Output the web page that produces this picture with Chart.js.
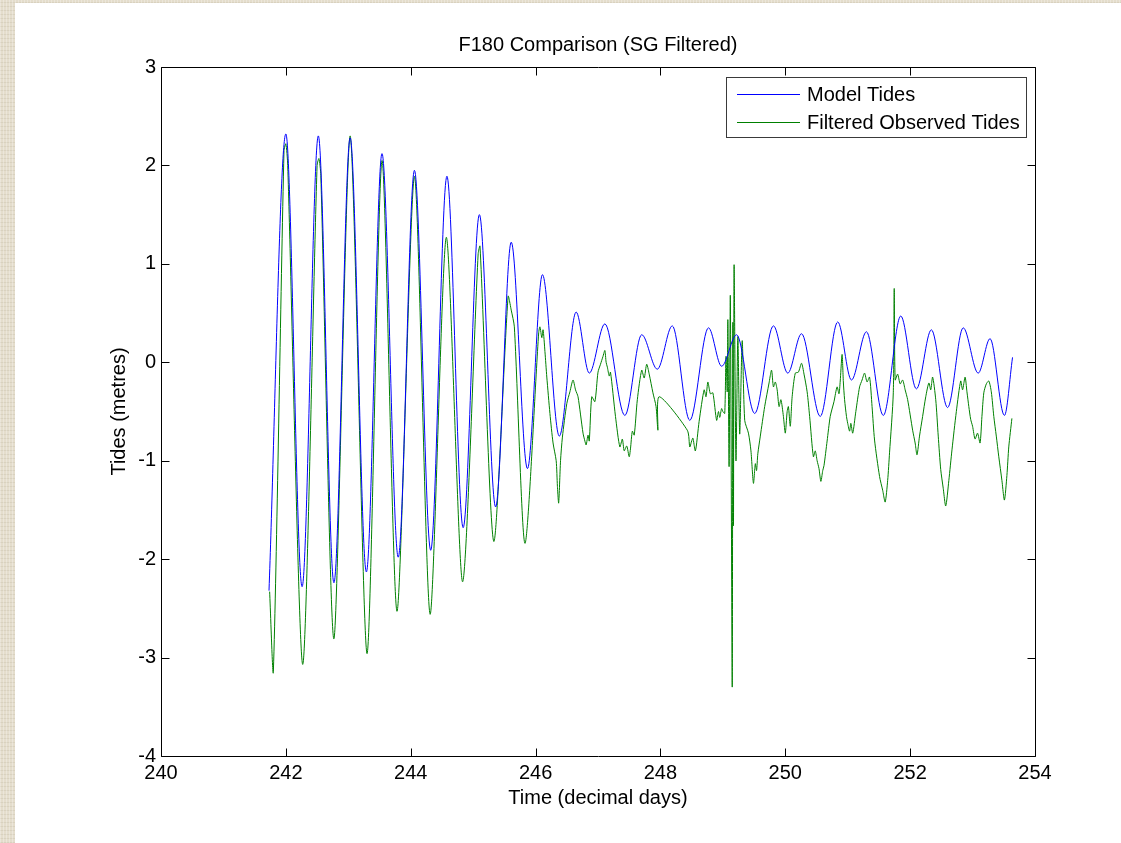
<!DOCTYPE html>
<html>
<head>
<meta charset="utf-8">
<title>F180 Comparison (SG Filtered)</title>
<script src="https://cdn.jsdelivr.net/npm/chart.js@4.4.1/dist/chart.umd.min.js"></script>
<style>
  html, body { margin: 0; padding: 0; }
  body {
    width: 1121px; height: 843px; overflow: hidden; position: relative;
    background-color: #e4ddcc;
    background-image:
      repeating-linear-gradient(90deg, rgba(255,255,255,0.28) 0 1px, transparent 1px 3px),
      repeating-linear-gradient(0deg, rgba(150,140,110,0.14) 0 1px, transparent 1px 4px);
  }
  #sheet { position: absolute; left: 15px; top: 3px; right: 0; bottom: 0; background: #fff; }
  #tideChart { position: absolute; left: 0; top: 0; }
</style>
</head>
<body>
<div id="sheet"></div>
<canvas id="tideChart" width="1121" height="843"></canvas>
<script>
// values (turning points + visible noise)
const modelDays = [241.73, 242.00, 242.26, 242.52, 242.77, 243.03, 243.29, 243.54, 243.80, 244.06,
  244.32, 244.58, 244.84, 245.10, 245.36, 245.61, 245.87, 246.11, 246.38, 246.65, 246.86, 247.11,
  247.43, 247.70, 247.95, 248.19, 248.47, 248.77, 248.98, 249.22, 249.51, 249.81, 250.04, 250.26,
  250.56, 250.84, 251.06, 251.30, 251.57, 251.85, 252.10, 252.34, 252.60, 252.85, 253.09, 253.28,
  253.51, 253.64];
const modelTides = [-2.32, 2.32, -2.28, 2.30, -2.24, 2.28, -2.13, 2.12, -1.98, 1.95,
  -1.91, 1.89, -1.68, 1.50, -1.47, 1.22, -1.08, 0.89, -0.75, 0.51, -0.11, 0.39,
  -0.54, 0.28, -0.07, 0.37, -0.59, 0.35, -0.04, 0.28, -0.52, 0.37, -0.11, 0.29,
  -0.55, 0.41, -0.18, 0.31, -0.54, 0.47, -0.27, 0.33, -0.46, 0.35, -0.11, 0.24,
  -0.54, 0.05];

const observedDays = [
  241.74, 241.80, 241.97, 242.00, 242.03, 242.27, 242.50, 242.53, 242.56, 242.77,
  243.03, 243.30, 243.54, 243.78, 244.06, 244.31, 244.57, 244.83, 245.08, 245.11,
  245.33, 245.56, 245.61, 245.66, 245.83, 246.05, 246.07, 246.10, 246.12, 246.15,
  246.18, 246.23, 246.28, 246.33, 246.35, 246.37, 246.40, 246.43, 246.50, 246.55,
  246.60, 246.64, 246.68, 246.76, 246.79, 246.81, 246.84, 246.86, 246.90, 246.95,
  247.00, 247.04, 247.08, 247.11, 247.13, 247.15, 247.18, 247.20, 247.28, 247.35,
  247.39, 247.42, 247.46, 247.50, 247.52, 247.55, 247.58, 247.63, 247.70, 247.74,
  247.78, 247.82, 247.88, 247.93, 247.96, 247.98, 248.43, 248.47, 248.50, 248.52,
  248.56, 248.62, 248.70, 248.73, 248.76, 248.80, 248.84, 248.90, 248.93, 248.95,
  248.98, 249.00, 249.03, 249.05, 249.07, 249.08, 249.10, 249.12, 249.15, 249.16,
  249.17, 249.18, 249.21, 249.24, 249.27, 249.31, 249.35, 249.41, 249.45, 249.49,
  249.52, 249.54, 249.56, 249.60, 249.67, 249.74, 249.78, 249.81, 249.84, 249.87,
  249.90, 249.93, 249.97, 250.00, 250.03, 250.05, 250.08, 250.11, 250.16, 250.21,
  250.26, 250.30, 250.35, 250.39, 250.45, 250.48, 250.51, 250.54, 250.57, 250.60,
  250.62, 250.67, 250.72, 250.78, 250.83, 250.86, 250.88, 250.91, 250.93, 250.95,
  250.98, 251.00, 251.03, 251.05, 251.08, 251.13, 251.19, 251.23, 251.27, 251.31,
  251.35, 251.39, 251.43, 251.51, 251.56, 251.60, 251.64, 251.67, 251.73, 251.745,
  251.76, 251.80, 251.84, 251.88, 251.92, 251.96, 252.04, 252.08, 252.11, 252.15,
  252.20, 252.25, 252.30, 252.33, 252.36, 252.41, 252.45, 252.49, 252.53, 252.57,
  252.62, 252.67, 252.74, 252.81, 252.84, 252.88, 252.91, 252.94, 252.97, 253.00,
  253.04, 253.08, 253.12, 253.15, 253.18, 253.22, 253.26, 253.30, 253.34, 253.38,
  253.42, 253.47, 253.51, 253.55, 253.58, 253.63];
const observedTides = [
  -2.33, -3.14, 2.15, 2.22, 2.00, -3.07, 2.00, 2.07, 1.90, -2.81,
  2.30, -2.96, 2.05, -2.53, 1.89, -2.56, 1.27, -2.23, 1.10, 1.18,
  -1.82, 0.67, 0.53, 0.36, -1.84, 0.30, 0.36, 0.25, 0.33, 0.11,
  -0.15, -0.52, -0.82, -1.00, -1.26, -1.43, -1.00, -0.76, -0.42, -0.30,
  -0.18, -0.28, -0.35, -0.72, -0.80, -0.84, -0.74, -0.80, -0.35, -0.40,
  -0.10, -0.02, 0.06, 0.12, 0.00, -0.05, -0.14, -0.10, -0.55, -0.86,
  -0.78, -0.90, -0.85, -0.96, -0.88, -0.70, -0.74, -0.38, -0.08, -0.16,
  -0.02, -0.12, -0.31, -0.45, -0.69, -0.35, -0.69, -0.86, -0.80, -0.77,
  -0.90, -0.60, -0.28, -0.35, -0.20, -0.32, -0.31, -0.59, -0.50, -0.56,
  -0.47, -0.50, -0.52, 0.06, -0.30, 0.43, -1.06, 0.67, -3.30, 0.40,
  -1.66, 0.99, -1.00, 0.26, -0.73, 0.22, -0.59, -0.72, -0.90, -1.23,
  -1.03, -1.10, -0.93, -0.75, -0.45, -0.21, -0.08, -0.25, -0.20, -0.28,
  -0.45, -0.38, -0.55, -0.72, -0.50, -0.45, -0.65, -0.35, -0.11, -0.10,
  -0.01, -0.12, -0.30, -0.55, -0.96, -0.90, -1.00, -1.08, -1.21, -1.10,
  -1.05, -0.80, -0.55, -0.40, -0.25, -0.32, -0.19, 0.08, -0.20, -0.38,
  -0.55, -0.62, -0.70, -0.62, -0.72, -0.50, -0.25, -0.18, -0.11, -0.20,
  -0.15, -0.45, -0.79, -1.16, -1.30, -1.42, -1.20, -0.92, -0.31, 0.75,
  -0.18, -0.12, -0.22, -0.18, -0.28, -0.38, -0.69, -0.82, -0.94, -0.75,
  -0.55, -0.35, -0.21, -0.28, -0.15, -0.38, -0.75, -1.09, -1.28, -1.46,
  -1.20, -0.89, -0.50, -0.19, -0.28, -0.15, -0.30, -0.45, -0.58, -0.65,
  -0.78, -0.72, -0.82, -0.55, -0.31, -0.22, -0.19, -0.30, -0.55, -0.75,
  -0.96, -1.20, -1.40, -1.15, -0.86, -0.57];

const dayTicks = [240, 242, 244, 246, 248, 250, 252, 254];
const tideTicks = [-4, -3, -2, -1, 0, 1, 2, 3];

const FONT = '"Liberation Sans", Arial, Helvetica, sans-serif';

// matlab style: closed box, ticks pointing inwards on all four sides
const matlabAxes = {
  id: 'matlabAxes',
  afterDraw(chart) {
    const { ctx, chartArea: a, scales: { x, y } } = chart;
    const len = 8;
    const L = Math.round(a.left) + 0.5, R = Math.round(a.right) + 0.5;
    const T = Math.round(a.top) + 0.5, B = Math.round(a.bottom) + 0.5;
    ctx.save();
    ctx.strokeStyle = '#000';
    ctx.lineWidth = 1;
    ctx.beginPath();
    ctx.rect(L, T, R - L, B - T);
    x.ticks.forEach(t => {
      const px = Math.round(x.getPixelForValue(t.value)) + 0.5;
      ctx.moveTo(px, B); ctx.lineTo(px, B - len);
      ctx.moveTo(px, T); ctx.lineTo(px, T + len);
    });
    y.ticks.forEach(t => {
      const py = Math.round(y.getPixelForValue(t.value)) + 0.5;
      ctx.moveTo(L, py); ctx.lineTo(L + len, py);
      ctx.moveTo(R, py); ctx.lineTo(R - len, py);
    });
    ctx.stroke();
    ctx.restore();
  }
};

const boxedLegend = {
  id: 'boxedLegend',
  afterDraw(chart) {
    const { ctx, chartArea } = chart;
    const sets = chart.data.datasets;
    ctx.save();
    ctx.font = '20px ' + FONT;
    const textW = Math.max(...sets.map(d => ctx.measureText(d.label).width));
    const rowH = 28;
    const w = Math.round(81 + textW + 6);
    const h = sets.length * rowH + 4;
    const x = Math.round(chartArea.right - 9 - w);
    const y = Math.round(chartArea.top + 10);
    ctx.fillStyle = '#fff';
    ctx.fillRect(x, y, w, h);
    ctx.strokeStyle = '#3a3a3a';
    ctx.lineWidth = 1;
    ctx.strokeRect(x + 0.5, y + 0.5, w, h);
    sets.forEach((d, i) => {
      const cy = y + 17 + i * rowH;
      ctx.strokeStyle = d.borderColor;
      ctx.beginPath();
      ctx.moveTo(x + 11, cy + 0.5);
      ctx.lineTo(x + 74, cy + 0.5);
      ctx.stroke();
      ctx.fillStyle = '#000';
      ctx.textBaseline = 'middle';
      ctx.fillText(d.label, x + 81, cy + 1);
    });
    ctx.restore();
  }
};

Chart.defaults.color = '#000';
Chart.defaults.font.family = FONT;

new Chart(document.getElementById('tideChart'), {
  type: 'line',
  data: {
    datasets: [{
      label: 'Model Tides',
      data: modelDays.map((d, i) => ({ x: d, y: modelTides[i] })),
      borderColor: '#0000ff',
      borderWidth: 1,
      pointRadius: 0,
      cubicInterpolationMode: 'monotone'
    }, {
      label: 'Filtered Observed Tides',
      data: observedDays.map((d, i) => ({ x: d, y: observedTides[i] })),
      borderColor: '#008000',
      borderWidth: 1,
      pointRadius: 0,
      tension: 0.25
    }]
  },
  options: {
    responsive: false,
    animation: false,
    events: [],
    layout: { padding: { left: 0, right: 86, top: 0, bottom: 0 } },
    plugins: {
      legend: { display: false },
      tooltip: { enabled: false },
      title: {
        display: true,
        text: 'F180 Comparison (SG Filtered)',
        fullSize: false,
        font: { size: 20, weight: 'normal' },
        color: '#000',
        padding: { top: 33, bottom: 10 }
      }
    },
    scales: {
      x: {
        type: 'linear',
        min: 240, max: 254,
        afterBuildTicks: s => { s.ticks = dayTicks.map(v => ({ value: v })); },
        afterFit: s => { s.height = 87; },
        ticks: { font: { size: 20 }, padding: 5, maxRotation: 0 },
        grid: { display: false, drawTicks: false },
        border: { display: false },
        title: { display: true, text: 'Time (decimal days)', font: { size: 20 }, padding: { top: 0, bottom: 33 } }
      },
      y: {
        min: -4, max: 3,
        afterBuildTicks: s => { s.ticks = tideTicks.map(v => ({ value: v })); },
        afterFit: s => { s.width = 161; },
        ticks: { font: { size: 20 }, padding: 5 },
        grid: { display: false, drawTicks: false },
        border: { display: false },
        title: { display: true, text: 'Tides (metres)', font: { size: 20 }, padding: { top: 107, bottom: 0 } }
      }
    }
  },
  plugins: [matlabAxes, boxedLegend]
});
</script>
</body>
</html>
